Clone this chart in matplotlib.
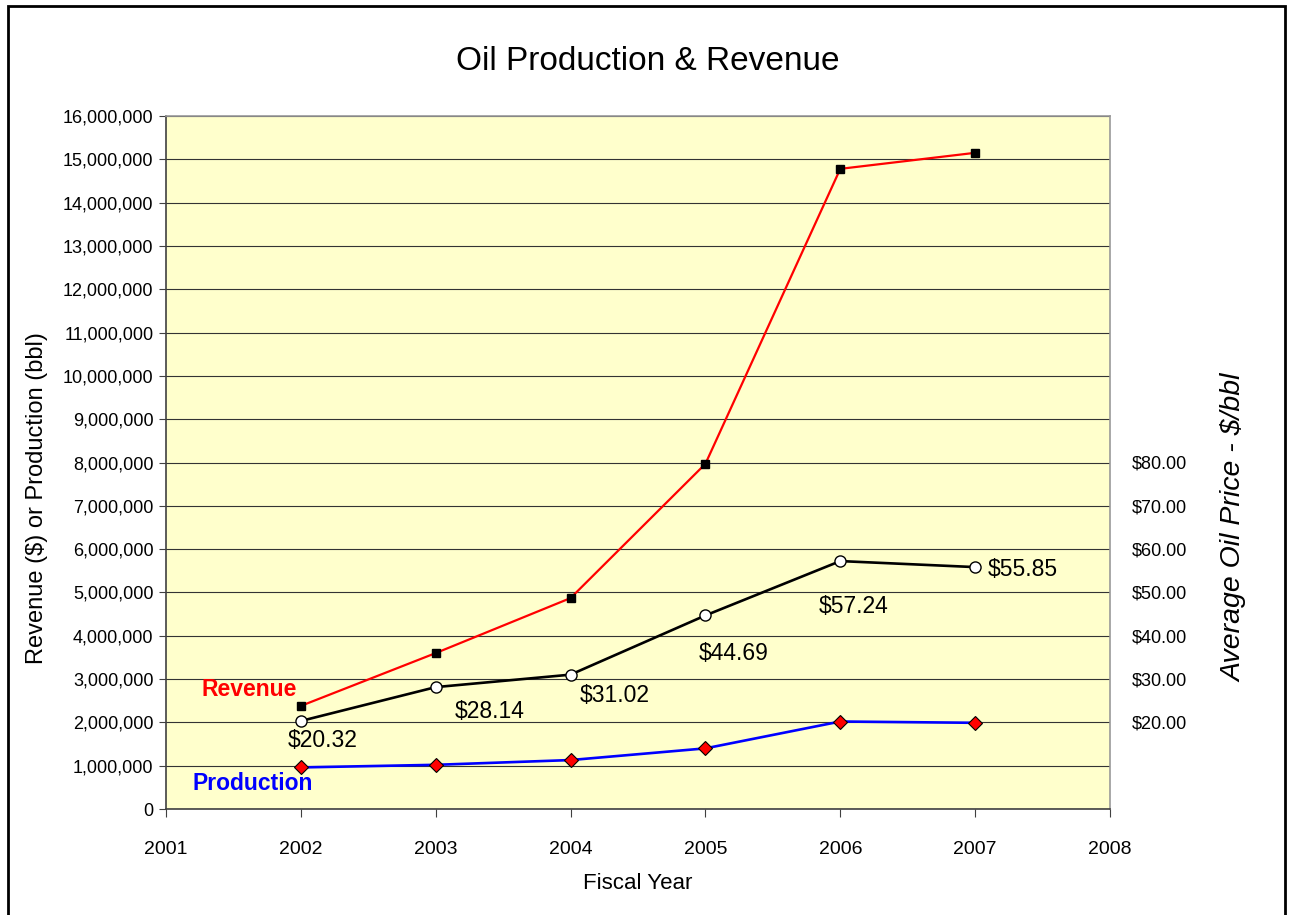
import matplotlib
matplotlib.use("Agg")
import matplotlib.pyplot as plt
from matplotlib.ticker import FuncFormatter, FixedLocator
from matplotlib.patches import Rectangle

plt.rcParams['font.family'] = ['Liberation Sans', 'DejaVu Sans']
plt.rcParams['text.parse_math'] = False

# data
years = [2002, 2003, 2004, 2005, 2006, 2007]
revenue = [2380000, 3600000, 4870000, 7970000, 14780000, 15150000]
production = [960000, 1020000, 1130000, 1400000, 2020000, 1990000]
oil_price = [20.32, 28.14, 31.02, 44.69, 57.24, 55.85]

price_ticks = [20, 30, 40, 50, 60, 70, 80]
# where each price label sits relative to its point (pixels)
label_offsets = [(22, -20), (54, -24), (44, -21), (28, -38), (13, -45), (48, -2)]

fig = plt.figure(figsize=(12.89, 9.15), dpi=100)
ax = fig.add_axes([166 / 1289, 1 - 809 / 915, 944 / 1289, 693 / 915])
ax.set_facecolor('#FFFFCC')

ax.plot(years, revenue, color='red', lw=1.6, marker='s', ms=5.5,
        mfc='black', mec='black', zorder=3)
ax.plot(years, production, color='blue', lw=1.9, marker='D', ms=7,
        mfc='red', mec='black', mew=0.8, zorder=3)

ax.set_xlim(2001, 2008)
ax.set_ylim(0, 16000000)
ax.set_xticks(range(2001, 2009))
ax.set_yticks(range(0, 16000001, 1000000))
ax.yaxis.set_major_formatter(FuncFormatter(lambda v, _: f"{int(v):,}"))
ax.tick_params(axis='y', labelsize=13, length=5, direction='out', color='#404040', pad=4)
ax.tick_params(axis='x', labelsize=14, length=6, direction='out', color='#404040', pad=17)
ax.grid(axis='y', color='#333333', lw=0.8)
ax.set_axisbelow(True)
for side in ['left', 'bottom']:
    ax.spines[side].set_color('#404040')
    ax.spines[side].set_linewidth(1.2)
for side in ['top', 'right']:
    ax.spines[side].set_color('#999999')
    ax.spines[side].set_linewidth(1.2)

ax.set_xlabel('Fiscal Year', fontsize=16, va='center')
ax.xaxis.set_label_coords(0.5, -0.107)
ax.set_ylabel('Revenue ($) or Production (bbl)', fontsize=17, va='center')
ax.yaxis.set_label_coords(-(166 - 37) / 944, 0.449)

ax.text(2001.615, 2750000, 'Revenue', color='red', fontsize=16.5,
        fontweight='bold', ha='center', va='center')
ax.text(2001.645, 600000, 'Production', color='blue', fontsize=16.5,
        fontweight='bold', ha='center', va='center')

# oil price on its own scale
ax2 = ax.twinx()
ax2.set_ylim(0, 160)
ax2.plot(years, oil_price, color='black', lw=1.9, marker='o', ms=8,
         mfc='white', mec='black', mew=1, zorder=4)
ax2.yaxis.set_major_locator(FixedLocator(price_ticks))
ax2.yaxis.set_major_formatter(FuncFormatter(lambda v, _: f"${v:.2f}"))
ax2.tick_params(axis='y', labelsize=13, length=0, pad=16)
for side in ['left', 'bottom', 'top', 'right']:
    ax2.spines[side].set_visible(False)
ax2.set_ylabel('Average Oil Price - $/bbl', fontsize=20.5, style='italic',
               rotation=90, va='center')
ax2.yaxis.set_label_coords((1234 - 166) / 944, (809 - 528) / 693)

for yr, p, off in zip(years, oil_price, label_offsets):
    ax2.annotate(f"${p:.2f}", (yr, p), xytext=off, textcoords='offset pixels',
                 fontsize=16.5, ha='center', va='center')

fig.text(648 / 1289, 1 - 62 / 915, 'Oil Production & Revenue', fontsize=24,
         family=['Liberation Sans Narrow', 'Liberation Sans'], ha='center', va='center')

# outer chart frame
fig.patches.append(Rectangle((8 / 1289, -0.02), 1277 / 1289, 1 - 6 / 915 + 0.02,
                             transform=fig.transFigure, fill=False,
                             edgecolor='black', lw=2, clip_on=False))

fig.savefig('out.png', dpi=100)
